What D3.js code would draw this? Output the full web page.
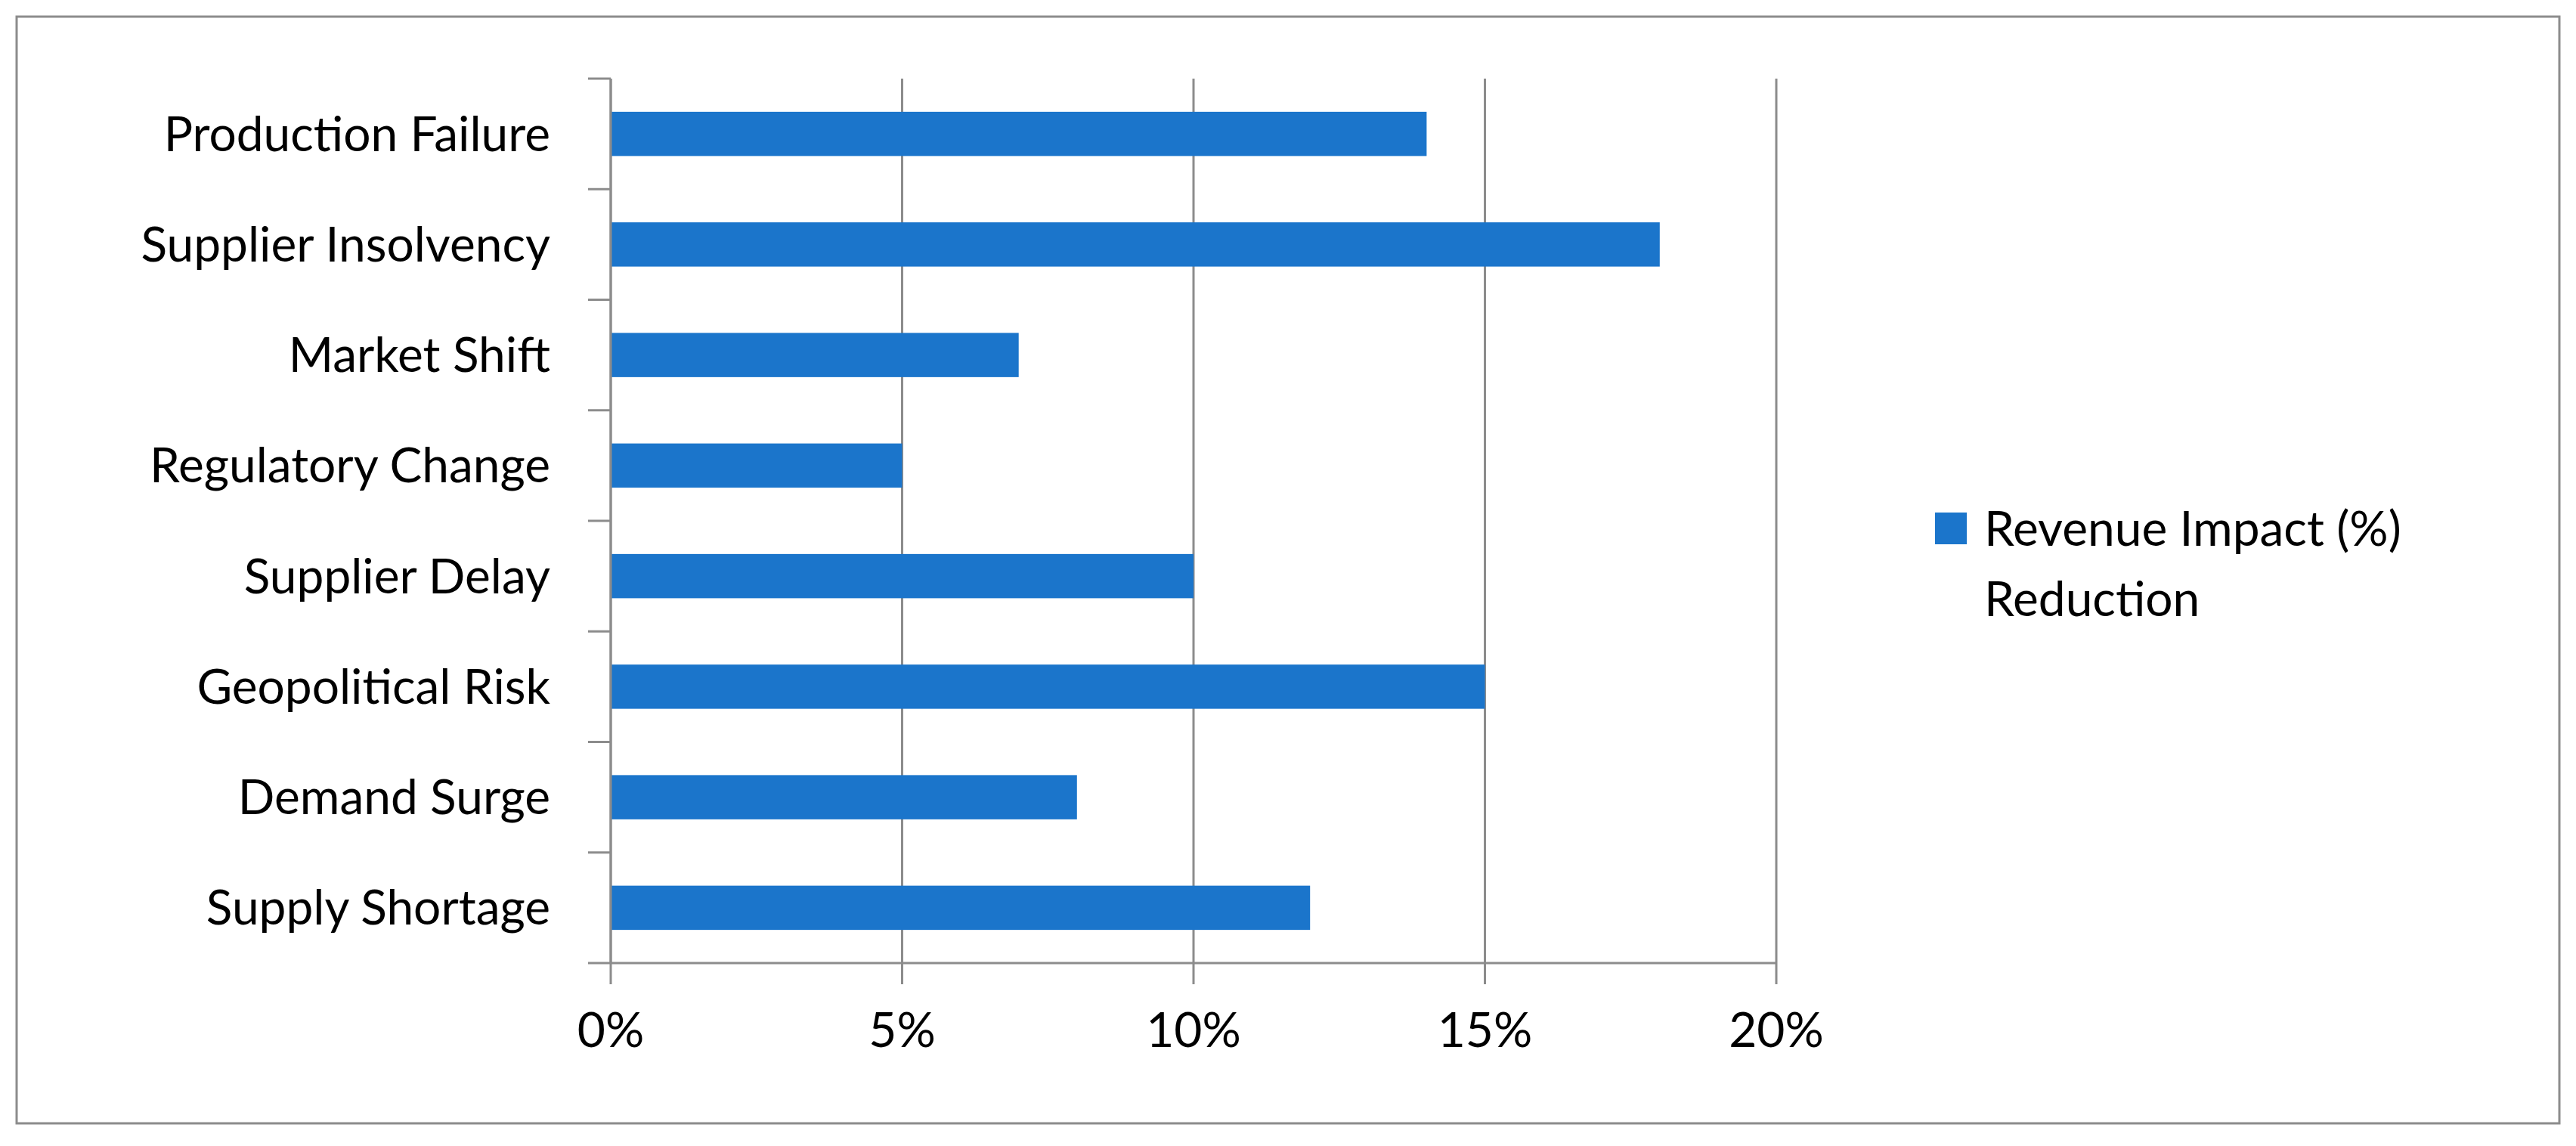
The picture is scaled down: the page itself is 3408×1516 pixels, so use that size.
<!DOCTYPE html>
<html><head><meta charset="utf-8">
<script src="https://cdn.jsdelivr.net/npm/d3@7"></script>
<style>body{margin:0;background:#fff}svg text{font-family:Lato,"Open Sans",sans-serif;fill:#000}</style>
</head><body>
<svg id="c" width="3408" height="1516"></svg>
<script>
const categories = ["Supply Shortage","Demand Surge","Geopolitical Risk","Supplier Delay","Regulatory Change","Market Shift","Supplier Insolvency","Production Failure"];
const values = [12,8,15,10,5,7,18,14];
const xTicks = [0,5,10,15,20];
const seriesName = ["Revenue Impact (%)","Reduction"];

const svg = d3.select("#c");
const color = "#1B75CB", grid = "#8c8c8c";
svg.append("rect").attr("x",22).attr("y",22).attr("width",3364).attr("height",1464)
  .attr("fill","none").attr("stroke","#8c8c8c").attr("stroke-width",3);
const L=808,R=2350,T=104,B=1274;
const x = d3.scaleLinear().domain([0,20]).range([L,R]);
const y = d3.scaleBand().domain(categories.slice().reverse()).range([T,B]).paddingInner(0.6).paddingOuter(0.3);
const yb = d3.scaleBand().domain(categories.slice().reverse()).range([T,B]);
// gridlines
svg.selectAll(".g").data(xTicks).enter().append("line")
  .attr("x1",d=>x(d)).attr("x2",d=>x(d)).attr("y1",T).attr("y2",B+28)
  .attr("stroke",grid).attr("stroke-width",3);
// bars
svg.selectAll(".b").data(categories).enter().append("rect")
  .attr("x",x(0)).attr("y",d=>y(d)).attr("height",y.bandwidth())
  .attr("width",(d,i)=>x(values[i])-x(0)).attr("fill",color);
// y axis
svg.append("line").attr("x1",L).attr("x2",L).attr("y1",T).attr("y2",B).attr("stroke",grid).attr("stroke-width",3);
svg.append("line").attr("x1",L).attr("x2",R).attr("y1",B).attr("y2",B).attr("stroke",grid).attr("stroke-width",3);
const bounds = [T].concat(categories.map(c=>yb(c)+yb.bandwidth()));
svg.selectAll(".yt").data(bounds).enter().append("line")
  .attr("x1",L-30).attr("x2",L).attr("y1",d=>d).attr("y2",d=>d).attr("stroke",grid).attr("stroke-width",3);
svg.selectAll(".yl").data(categories).enter().append("text")
  .attr("x",L-80).attr("y",d=>yb(d)+yb.bandwidth()/2).attr("dy","0.35em")
  .attr("text-anchor","end").attr("font-size",64).text(d=>d);
svg.selectAll(".xl").data(xTicks).enter().append("text")
  .attr("x",d=>x(d)).attr("y",1385).attr("text-anchor","middle").attr("font-size",64).text(d=>d+"%");
// legend
svg.append("rect").attr("x",2560).attr("y",678).attr("width",42).attr("height",42).attr("fill",color);
svg.selectAll(".lg").data(seriesName).enter().append("text")
  .attr("x",2625).attr("y",(d,i)=>700+i*93).attr("dy","0.35em").attr("font-size",64).text(d=>d);
</script>
</body></html>
